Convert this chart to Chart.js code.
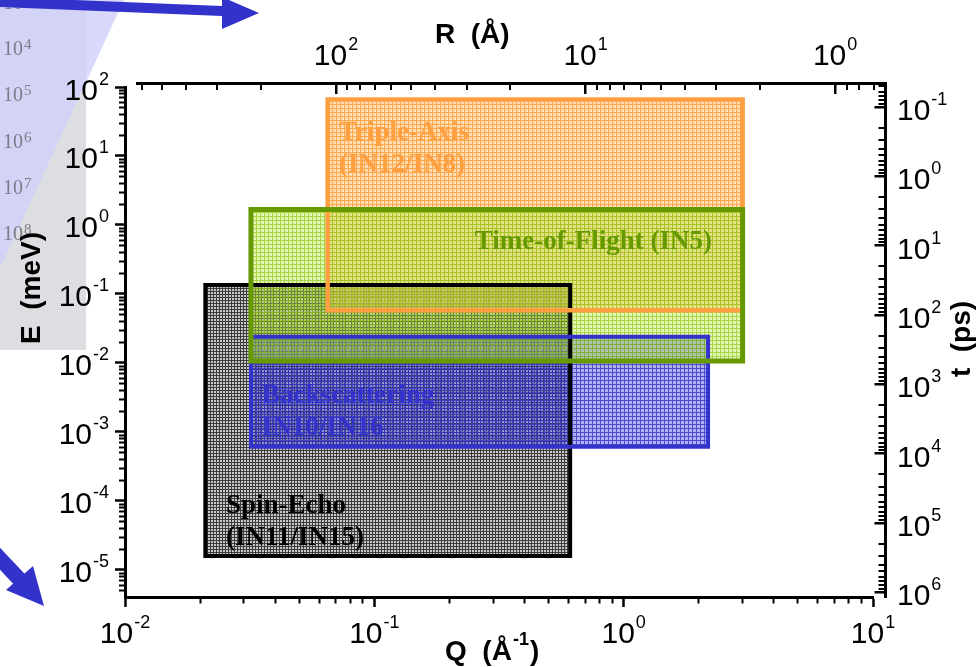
<!DOCTYPE html>
<html>
<head>
<meta charset="utf-8">
<title>Q - E range of neutron spectrometers</title>
<script src="https://cdn.jsdelivr.net/npm/chart.js@4.4.1/dist/chart.umd.min.js"></script>
<style>
    html, body { margin: 0; padding: 0; background: #ffffff; }
    #wrap { width: 980px; height: 667px; }
</style>
</head>
<body>
<div id="wrap"><canvas id="qeChart" width="980" height="667"></canvas></div>
<script>
var qeCtx = document.getElementById('qeChart').getContext('2d');

// instrument windows, Q in 1/A and E in meV
var boxNames = ['Spin-Echo', 'Backscattering', 'Time-of-Flight', 'Triple-Axis'];
var qMin = [0.021, 0.032, 0.032, 0.065];
var qMax = [0.61, 2.18, 3.0, 3.0];
var eMin = [1.6e-5, 6.1e-4, 0.0107, 0.058];
var eMax = [0.135, 0.024, 1.68, 66];
var boxText = [['Spin-Echo', '(IN11/IN15)'], ['Backscattering', 'IN10/IN16'], ['Time-of-Flight (IN5)'], ['Triple-Axis', '(IN12/IN8)']];

// decade ticks of the four axes
var qTicks = [0.01, 0.1, 1, 10];
var eTicks = [1e-5, 1e-4, 1e-3, 1e-2, 1e-1, 1, 10, 100];
var rTicks = [1, 10, 100];
var tTicks = [0.1, 1, 10, 100, 1000, 1e4, 1e5, 1e6];
var slideTicks = [1e3, 1e4, 1e5, 1e6, 1e7, 1e8];

// axis ranges
var qRange = [0.01, 10];
var eRange = [4.06e-6, 100];
var rRange = [0.631, 627.6];
var tRange = [0.0452, 1.175e6];

// looks
var boxLine = ['#000000', '#3333cc', '#669900', '#ff9f40'];
var boxLineWidth = [4, 4, 5, 4.5];
var boxOrder = [3, 1, 0, 2];
var textQ = [0.0254, 0.0354, 0.253, 0.0722];
var textE = [6.7e-5, 2.63e-3, 0.449, 17.1];
var sans = '"Liberation Sans", Arial, sans-serif';
var serif = '"Liberation Serif", "Times New Roman", serif';

function meshPattern(base, line, size) {
    var c = document.createElement('canvas');
    c.width = size;
    c.height = size;
    var p = c.getContext('2d');
    p.fillStyle = base;
    p.fillRect(0, 0, size, size);
    p.fillStyle = line;
    p.fillRect(0, 0, size, 1);
    p.fillRect(0, 1, 1, size - 1);
    return qeCtx.createPattern(c, 'repeat');
}

var boxFill = [
    meshPattern('rgba(200,200,200,1)', 'rgba(0,0,0,0.7)', 3),
    meshPattern('rgba(60,60,220,0.4)', 'rgba(51,51,204,0.8)', 4),
    meshPattern('rgba(180,230,60,0.38)', 'rgba(140,200,10,0.65)', 4),
    meshPattern('rgba(255,190,110,0.5)', 'rgba(255,150,40,0.75)', 4)
];

function boxPath(i) {
    return [
        {x: qMin[i], y: eMin[i]},
        {x: qMax[i], y: eMin[i]},
        {x: qMax[i], y: eMax[i]},
        {x: qMin[i], y: eMax[i]},
        {x: qMin[i], y: eMin[i]}
    ];
}

// 1..9 x 10^k inside the range, decades are major
function logTicks(range) {
    var list = [];
    var k0 = Math.floor(Math.log10(range[0]));
    var k1 = Math.floor(Math.log10(range[1]));
    for (var k = k0; k <= k1; k++) {
        for (var m = 1; m <= 9; m++) {
            var v = m * Math.pow(10, k);
            if (v >= range[0] * 0.9999 && v <= range[1] * 1.0001) {
                list.push({value: v, major: m === 1});
            }
        }
    }
    return list;
}

function isMinor(c) {
    return c.tick && !c.tick.major;
}

function drawPower(c, v, x, y, align, big, small, rise, fontName) {
    var exp = String(Math.round(Math.log10(v)));
    c.font = big + 'px ' + fontName;
    var w1 = c.measureText('10').width;
    c.font = small + 'px ' + fontName;
    var w2 = c.measureText(exp).width;
    var total = w1 + 1 + w2;
    var left = align === 'center' ? x - total / 2 : (align === 'right' ? x - total : x);
    c.textAlign = 'left';
    c.textBaseline = 'alphabetic';
    c.font = big + 'px ' + fontName;
    c.fillText('10', left, y);
    c.font = small + 'px ' + fontName;
    c.fillText(exp, left + w1 + 1, y - rise);
}

var data = {
    datasets: boxNames.map(function (name, i) {
        return {
            label: name,
            data: boxPath(i),
            borderColor: boxLine[i],
            borderWidth: boxLineWidth[i],
            backgroundColor: boxFill[i],
            fill: 'shape',
            order: boxOrder[i],
            pointRadius: 0,
            pointHoverRadius: 0,
            tension: 0,
            borderJoinStyle: 'miter',
            borderCapStyle: 'square'
        };
    })
};

// faded slide and arrows behind the chart
var slidePlugin = {
    id: 'slide',
    beforeDraw: function (chart) {
        var c = chart.ctx;
        c.save();
        c.fillStyle = '#ffffff';
        c.fillRect(0, 0, chart.width, chart.height);
        c.fillStyle = '#dcdee2';
        c.fillRect(0, 0, 86, 350);
        c.fillStyle = 'rgba(208,208,250,0.8)';
        c.beginPath();
        c.moveTo(0, 0);
        c.lineTo(124, 0);
        c.lineTo(0, 268);
        c.closePath();
        c.fill();
        c.fillStyle = '#7c7c88';
        slideTicks.forEach(function (v, i) {
            drawPower(c, v, 3, 9 + 46.2 * i, 'left', 20, 15, 6, serif);
        });
        c.fillStyle = '#3333cc';
        c.beginPath();
        c.moveTo(0, -3);
        c.lineTo(222, 6);
        c.lineTo(222, -3);
        c.lineTo(259, 13);
        c.lineTo(222, 29);
        c.lineTo(222, 16);
        c.lineTo(0, 7);
        c.closePath();
        c.fill();
        c.strokeStyle = '#3333cc';
        c.lineWidth = 15;
        c.beginPath();
        c.moveTo(-12, 546);
        c.lineTo(21, 581);
        c.stroke();
        c.beginPath();
        c.moveTo(6, 590);
        c.lineTo(44, 606);
        c.lineTo(33, 566);
        c.closePath();
        c.fill();
        c.restore();
    },
    afterLayout: function (chart) {
        // the frame of the original is not closed at two corners
        var s = chart.scales;
        s.x.right = s.x.right - 12;
        s.x.width = s.x.right - s.x.left;
        s.x.configure();
        s.x2.left = s.x2.left + 12;
        s.x2.width = s.x2.right - s.x2.left;
        s.x2.configure();
        s.y.top = s.y.top + 4;
        s.y.height = s.y.bottom - s.y.top;
        s.y.configure();
    },
    beforeDatasetsDraw: function (chart) {
        var c = chart.ctx;
        c.save();
        c.font = 'bold 27px ' + serif;
        c.textAlign = 'left';
        c.textBaseline = 'alphabetic';
        boxText.forEach(function (lines, i) {
            var x = chart.scales.x.getPixelForValue(textQ[i]);
            var y = chart.scales.y.getPixelForValue(textE[i]);
            c.fillStyle = boxLine[i];
            lines.forEach(function (t, j) {
                c.fillText(t, x, y + 32 * j);
            });
        });
        c.restore();
    },
    afterDraw: function (chart) {
        var c = chart.ctx;
        var s = chart.scales;
        c.save();
        c.fillStyle = '#000000';
        qTicks.forEach(function (v) {
            drawPower(c, v, s.x.getPixelForValue(v), s.x.top + 46, 'center', 30, 18, 15, sans);
        });
        rTicks.forEach(function (v) {
            drawPower(c, v, s.x2.getPixelForValue(v), s.x2.bottom - 18, 'center', 30, 18, 15, sans);
        });
        eTicks.forEach(function (v) {
            drawPower(c, v, s.y.right - 16, s.y.getPixelForValue(v) + 12.5, 'right', 30, 18, 15, sans);
        });
        tTicks.forEach(function (v) {
            drawPower(c, v, s.y2.left + 12, s.y2.getPixelForValue(v) + 13, 'left', 30, 18, 15, sans);
        });

        // axis titles
        c.font = 'bold 28px ' + sans;
        c.textAlign = 'left';
        c.fillText('R  (\u00c5)', 435, 43);
        var qx = 445;
        var qy = 660;
        c.fillText('Q  (\u00c5', qx, qy);
        qx += c.measureText('Q  (\u00c5').width + 1;
        c.font = 'bold 18px ' + sans;
        c.fillText('-1', qx, qy - 15);
        qx += c.measureText('-1').width + 1;
        c.font = 'bold 28px ' + sans;
        c.fillText(')', qx, qy);
        c.textAlign = 'center';
        c.save();
        c.translate(40, 288);
        c.rotate(-Math.PI / 2);
        c.fillText('E  (meV)', 0, 0);
        c.restore();
        c.save();
        c.translate(970, 339);
        c.rotate(-Math.PI / 2);
        c.fillText('t  (ps)', 0, 0);
        c.restore();
        c.restore();
    }
};

var qeChart = new Chart(qeCtx, {
    type: 'line',
    data: data,
    plugins: [slidePlugin],
    options: {
        responsive: false,
        devicePixelRatio: 1,
        animation: false,
        events: [],
        layout: {
            padding: {left: 115, right: 95, top: 83, bottom: 60}
        },
        scales: {
            x: {
                type: 'logarithmic',
                position: 'bottom',
                bounds: 'data',
                min: qRange[0],
                max: qRange[1],
                afterBuildTicks: function (scale) { scale.ticks = logTicks(qRange); },
                border: {color: '#000000', width: 3},
                grid: {
                    drawOnChartArea: false,
                    tickLength: 10,
                    tickColor: '#000000',
                    tickWidth: function (c) { return isMinor(c) ? 2 : 2.5; },
                    tickBorderDash: function (c) { return isMinor(c) ? [4.5, 60] : []; }
                },
                ticks: {display: false, autoSkip: false}
            },
            y: {
                type: 'logarithmic',
                position: 'left',
                bounds: 'data',
                min: eRange[0],
                max: eRange[1],
                afterBuildTicks: function (scale) { scale.ticks = logTicks(eRange); },
                border: {color: '#000000', width: 3},
                grid: {
                    drawOnChartArea: false,
                    tickLength: 10,
                    tickColor: '#000000',
                    tickWidth: function (c) { return isMinor(c) ? 2 : 2.5; },
                    tickBorderDash: function (c) { return isMinor(c) ? [0, 4, 60, 0] : []; }
                },
                ticks: {display: false, autoSkip: false}
            },
            x2: {
                type: 'logarithmic',
                position: 'top',
                reverse: true,
                bounds: 'data',
                min: rRange[0],
                max: rRange[1],
                afterBuildTicks: function (scale) { scale.ticks = logTicks(rRange); },
                border: {
                    color: '#000000',
                    width: 3,
                    dash: function (c) { return c.tick ? [c.tick.major ? 9 : 5, 3000] : []; }
                },
                grid: {
                    drawOnChartArea: true,
                    drawTicks: false,
                    color: '#000000',
                    lineWidth: function (c) { return isMinor(c) ? 2 : 2.5; }
                },
                ticks: {display: false, autoSkip: false}
            },
            y2: {
                type: 'logarithmic',
                position: 'right',
                reverse: true,
                bounds: 'data',
                min: tRange[0],
                max: tRange[1],
                afterBuildTicks: function (scale) { scale.ticks = logTicks(tRange); },
                border: {
                    color: '#000000',
                    width: 3,
                    dash: function (c) {
                        if (!c.tick) {
                            return [];
                        }
                        var a = c.chart.chartArea;
                        var w = a.right - a.left - 1.5;
                        var n = c.tick.major ? 9 : 5;
                        return [0, w - n, n + 30, 0];
                    }
                },
                grid: {
                    drawOnChartArea: true,
                    drawTicks: false,
                    color: '#000000',
                    lineWidth: function (c) { return isMinor(c) ? 2 : 2.5; }
                },
                ticks: {display: false, autoSkip: false}
            }
        },
        plugins: {
            legend: {display: false},
            tooltip: {enabled: false},
            filler: {drawTime: 'beforeDatasetsDraw'}
        }
    }
});
</script>
</body>
</html>
